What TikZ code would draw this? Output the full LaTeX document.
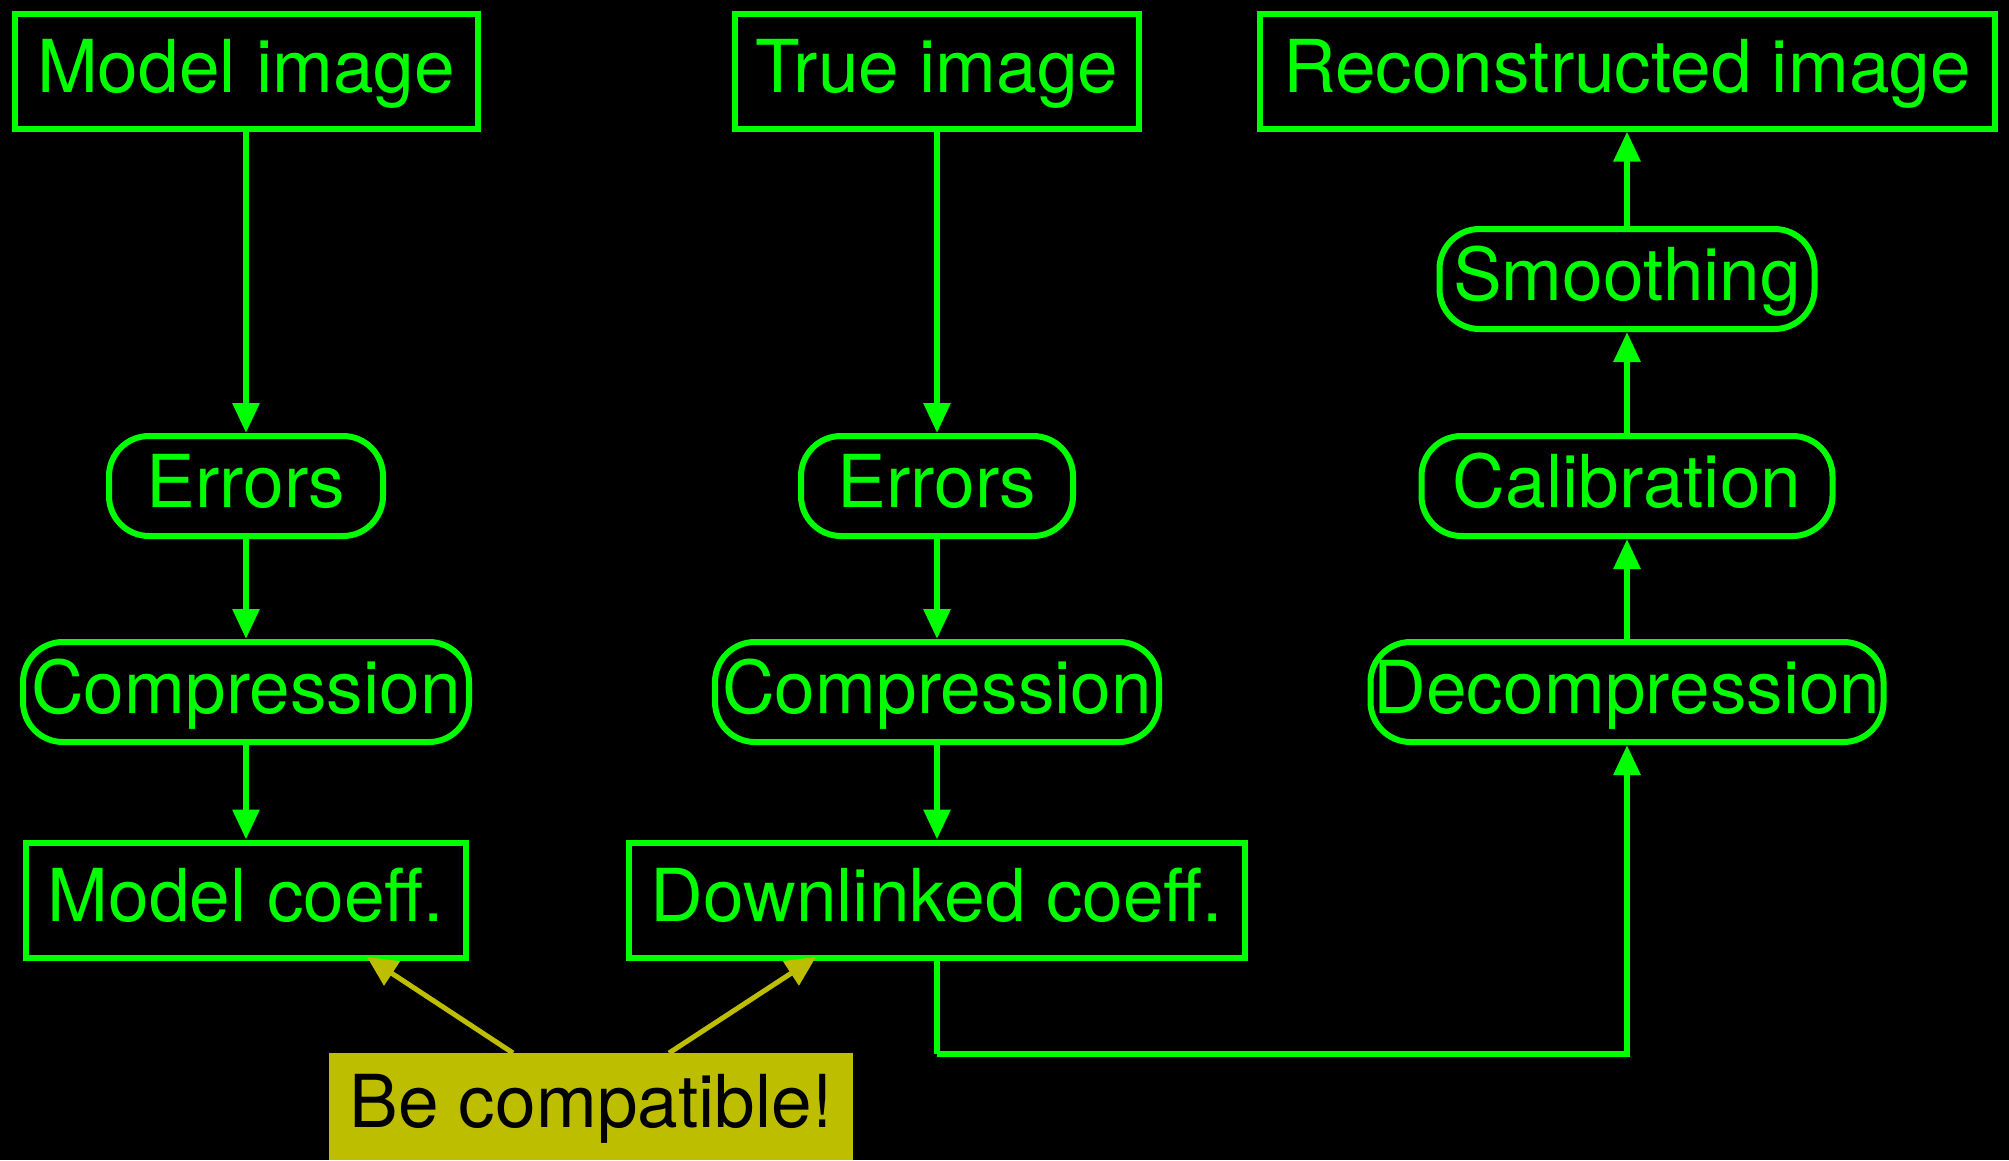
\documentclass[tikz,border=0pt]{standalone}
\usepackage{fontspec}
\setmainfont{TeX Gyre Heros}
\usetikzlibrary{arrows.meta}
\definecolor{grn}{RGB}{0,255,0}
\definecolor{ylw}{RGB}{190,190,0}
\begin{document}
\begin{tikzpicture}[x=1pt,y=-1pt,
  lbl/.style={inner sep=0pt, font=\fontsize{73}{80}\selectfont, text height=52pt, text depth=10pt},
  sqbox/.style={lbl, draw=grn, text=grn, line width=6pt, minimum width=#1, minimum height=115pt},
  rbox/.style={lbl, draw=grn, text=grn, line width=6pt, rounded corners=40pt, minimum width=#1, minimum height=100pt},
  arr/.style={draw=grn, line width=6pt, -{Triangle[length=30pt,width=26pt]}},
  plain/.style={draw=grn, line width=6pt},
  yarr/.style={draw=ylw, line width=5pt, -{Triangle[length=30pt,width=28pt]}}]
\useasboundingbox[fill=black] (0,0) rectangle (2009,1160);

% top row
\node[sqbox=463pt] (mi) at (246,71) {Model image};
\node[sqbox=404pt] (ti) at (937,71) {True image};
\node[sqbox=735pt] (ri) at (1627,71) {Reconstructed image};

% left column
\node[rbox=274pt] (el) at (246,486) {Errors};
\node[rbox=446pt] (cl) at (246,692) {Compression};
\node[sqbox=440pt] (mc) at (246,900) {Model coeff.};

% middle column
\node[rbox=272pt] (em) at (937,486) {Errors};
\node[rbox=444pt] (cm) at (937,692) {Compression};
\node[sqbox=616pt] (dc) at (937,900) {Downlinked coeff.};

% right column
\node[rbox=375pt] (sm) at (1627,279) {Smoothing};
\node[rbox=411pt] (ca) at (1627,486) {Calibration};
\node[rbox=513pt] (de) at (1627,692) {Decompression};

% note
\node[lbl, fill=ylw, text=black, minimum width=524pt, minimum height=107pt] (bc) at (591,1106.5) {Be compatible!};

% connectors
\draw[arr] (mi) -- (el);
\draw[arr] (el) -- (cl);
\draw[arr] (cl) -- (mc);
\draw[arr] (ti) -- (em);
\draw[arr] (em) -- (cm);
\draw[arr] (cm) -- (dc);
\coordinate (bend) at (937,1054);
\draw[plain] (dc) -- (bend);
\draw[arr] (bend) -| (de);
\draw[arr] (de) -- (ca);
\draw[arr] (ca) -- (sm);
\draw[arr] (sm) -- (ri);

\coordinate (y1) at (513,1053);
\coordinate (y2) at (669,1053);
\coordinate (t1) at (367,957);
\coordinate (t2) at (816,957);
\draw[yarr] (y1) -- (t1);
\draw[yarr] (y2) -- (t2);
\end{tikzpicture}
\end{document}
